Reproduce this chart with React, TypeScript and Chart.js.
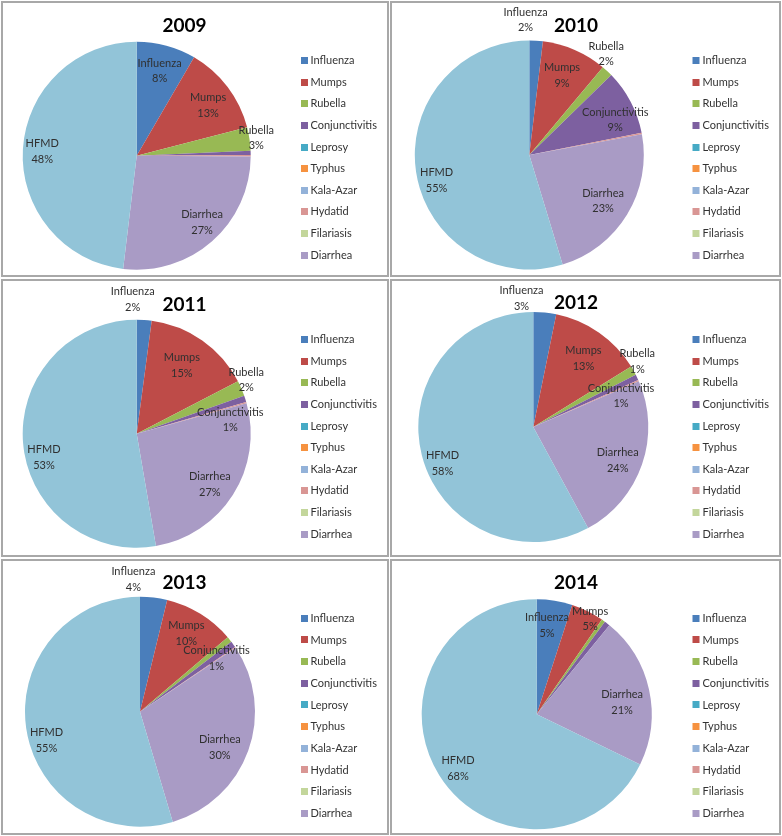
import React, { useEffect, useRef } from "react";
import { Chart, registerables } from "chart.js";

Chart.register(...registerables);

// ---------- data ----------
const categories = [
  "Influenza", "Mumps", "Rubella", "Conjunctivitis", "Leprosy", "Typhus",
  "Kala-Azar", "Hydatid", "Filariasis", "Diarrhea", "HFMD",
];
// legend lists only the first ten categories (HFMD is cut off in the original)
const legendCategories = categories.slice(0, 10);

const years = ["2009", "2010", "2011", "2012", "2013", "2014"];

const values2009 = [8.4, 12.6, 3.3, 0.6, 0, 0, 0, 0.2, 0, 26.8, 48.1];
const values2010 = [1.9, 9.2, 1.6, 9.2, 0, 0, 0, 0.2, 0, 23.2, 54.7];
const values2011 = [2.1, 15.3, 2.2, 0.9, 0, 0, 0, 0.2, 0, 26.6, 52.7];
const values2012 = [3.2, 13.0, 1.3, 0.8, 0, 0, 0, 0.2, 0, 23.6, 57.9];
const values2013 = [3.8, 10.0, 0.8, 0.9, 0, 0, 0, 0.1, 0, 29.8, 54.6];
const values2014 = [5.0, 4.6, 0.5, 0.8, 0, 0, 0, 0, 0, 21.3, 67.8];
const yearValues = [values2009, values2010, values2011, values2012, values2013, values2014];

// which slices carry a data label in each year
const labeled2009 = ["Influenza", "Mumps", "Rubella", "Diarrhea", "HFMD"];
const labeled2010 = ["Influenza", "Mumps", "Rubella", "Conjunctivitis", "Diarrhea", "HFMD"];
const labeled2011 = ["Influenza", "Mumps", "Rubella", "Conjunctivitis", "Diarrhea", "HFMD"];
const labeled2012 = ["Influenza", "Mumps", "Rubella", "Conjunctivitis", "Diarrhea", "HFMD"];
const labeled2013 = ["Influenza", "Mumps", "Conjunctivitis", "Diarrhea", "HFMD"];
const labeled2014 = ["Influenza", "Mumps", "Diarrhea", "HFMD"];
const yearLabeled = [labeled2009, labeled2010, labeled2011, labeled2012, labeled2013, labeled2014];

// ---------- styles / layout ----------
const colors = [
  "#4A7EBB", "#BE4B48", "#98B954", "#7D60A0", "#46AAC5", "#F69240",
  "#93B2D9", "#D99694", "#C3D69B", "#A99BC5", "#92C4D8",
];

// label placement: [fraction of radius, angle tweak in degrees]
const labelPlacement: Record<string, [number, number]>[] = [
  { Influenza: [0.77, 0], Mumps: [0.765, 2], Rubella: [1.06, 0], Diarrhea: [0.82, -3], HFMD: [0.83, -1] },
  { Influenza: [1.18, -5], Mumps: [0.75, -1], Rubella: [1.11, -5.6], Conjunctivitis: [0.81, 5.6], Diarrhea: [0.76, 0.7], HFMD: [0.84, -7] },
  { Influenza: [1.18, -5.5], Mumps: [0.72, -1.7], Rubella: [1.07, -2.7], Conjunctivitis: [0.83, 9.5], Diarrhea: [0.78, 2.2], HFMD: [0.84, -9.5] },
  { Influenza: [1.12, -11], Mumps: [0.74, 1.2], Rubella: [1.07, -3], Conjunctivitis: [0.81, 6], Diarrhea: [0.79, 2.6], HFMD: [0.85, -7.5] },
  { Influenza: [1.15, -9.7], Mumps: [0.79, -1], Conjunctivitis: [0.81, 1], Diarrhea: [0.76, 4.2], HFMD: [0.85, -8.7] },
  { Influenza: [0.78, -2.4], Mumps: [0.95, 3], Diarrhea: [0.75, 4.6], HFMD: [0.83, -2.4] },
];

const panels = [
  { left: 1, top: 1, w: 388, h: 276, cx: 135.7, cy: 154.7, r: 114, titleX: 183.5, titleY: 24.5, legX: 300, legTextX: 309.5, legY: 59.7, legStep: 21.6 },
  { left: 390, top: 1, w: 391, h: 276, cx: 139.3, cy: 154, r: 114.5, titleX: 186, titleY: 24.5, legX: 302.5, legTextX: 312.5, legY: 59.7, legStep: 21.6 },
  { left: 1, top: 279, w: 388, h: 278, cx: 135.7, cy: 154.7, r: 114, titleX: 183.5, titleY: 25.7, legX: 300, legTextX: 309.5, legY: 60.7, legStep: 21.6 },
  { left: 390, top: 279, w: 391, h: 278, cx: 143.3, cy: 148, r: 115, titleX: 186, titleY: 24, legX: 302.5, legTextX: 312.5, legY: 60.7, legStep: 21.6 },
  { left: 1, top: 559, w: 388, h: 276, cx: 139, cy: 152.7, r: 115, titleX: 183.5, titleY: 24.3, legX: 300, legTextX: 309.5, legY: 59.3, legStep: 21.67 },
  { left: 390, top: 559, w: 391, h: 276, cx: 146.7, cy: 155.3, r: 115, titleX: 186, titleY: 24.3, legX: 302.5, legTextX: 312.5, legY: 59.3, legStep: 21.67 },
];

const FONT = "Lato, 'Noto Sans', sans-serif";

function makePanelPlugin(idx: number) {
  const p = panels[idx];
  const place = labelPlacement[idx];
  const labeled = yearLabeled[idx];
  return {
    id: "panelDecor" + idx,
    afterDraw(chart: any) {
      const ctx: CanvasRenderingContext2D = chart.ctx;
      ctx.save();
      // frame
      ctx.strokeStyle = "#A8A8A8";
      ctx.lineWidth = 2;
      ctx.strokeRect(1, 1, chart.width - 2, chart.height - 2);

      // data labels
      const meta = chart.getDatasetMeta(0);
      const data: number[] = chart.data.datasets[0].data;
      const total = data.reduce((a, b) => a + b, 0);
      ctx.font = `11px ${FONT}`;
      ctx.fillStyle = "#303030";
      ctx.textAlign = "center";
      ctx.textBaseline = "middle";
      meta.data.forEach((arc: any, i: number) => {
        const name = categories[i];
        if (!labeled.includes(name)) return;
        const pl = place[name] || [0.8, 0];
        const { x, y, startAngle, endAngle, outerRadius } = arc.getProps(
          ["x", "y", "startAngle", "endAngle", "outerRadius"], true);
        const mid = (startAngle + endAngle) / 2 + (pl[1] * Math.PI) / 180;
        const lx = x + Math.cos(mid) * outerRadius * pl[0];
        const ly = y + Math.sin(mid) * outerRadius * pl[0];
        ctx.fillText(name, lx, ly - 7.8);
        ctx.fillText(Math.round((data[i] / total) * 100) + "%", lx, ly + 7.8);
      });

      // title
      ctx.font = `bold 19px ${FONT}`;
      ctx.fillStyle = "#000";
      ctx.fillText(years[idx], p.titleX, p.titleY);

      // legend
      ctx.font = `11px ${FONT}`;
      ctx.textAlign = "left";
      legendCategories.forEach((name, i) => {
        const cy = p.legY + i * p.legStep;
        ctx.fillStyle = colors[i];
        ctx.fillRect(p.legX, Math.round(cy - 3.5), 7, 7);
        ctx.fillStyle = "#333";
        ctx.fillText(name, p.legTextX, cy);
      });
      ctx.restore();
    },
  };
}

function Panel({ idx }: { idx: number }) {
  const ref = useRef<HTMLCanvasElement | null>(null);
  useEffect(() => {
    const p = panels[idx];
    const canvas = ref.current!;
    const padding = {
      left: Math.max(0, 2 * p.cx - p.w),
      right: Math.max(0, p.w - 2 * p.cx),
      top: Math.max(0, 2 * p.cy - p.h),
      bottom: Math.max(0, p.h - 2 * p.cy),
    };
    const chart = new Chart(canvas, {
      type: "pie",
      data: {
        labels: categories,
        datasets: [
          {
            data: yearValues[idx],
            backgroundColor: colors,
            borderWidth: 0,
            hoverOffset: 0,
          },
        ],
      },
      options: {
        animation: false,
        responsive: false,
        maintainAspectRatio: false,
        devicePixelRatio: 1,
        radius: p.r,
        layout: { padding },
        events: [],
        plugins: {
          legend: { display: false },
          title: { display: false },
          tooltip: { enabled: false },
        },
      } as any,
      plugins: [makePanelPlugin(idx)],
    });
    let alive = true;
    if ((document as any).fonts && (document as any).fonts.load) {
      Promise.all([
        (document as any).fonts.load(`11px Lato`),
        (document as any).fonts.load(`bold 19px Lato`),
      ]).then(() => {
        if (alive) chart.draw();
      }).catch(() => {});
    }
    return () => {
      alive = false;
      chart.destroy();
    };
  }, [idx]);
  const p = panels[idx];
  return (
    <canvas
      ref={ref}
      width={p.w}
      height={p.h}
      style={{ position: "absolute", left: p.left, top: p.top, width: p.w, height: p.h }}
    />
  );
}

export default function App() {
  return (
    <div
      style={{
        position: "fixed",
        left: 0,
        top: 0,
        width: 782,
        height: 836,
        background: "#fff",
        overflow: "hidden",
      }}
    >
      {years.map((y, i) => (
        <Panel key={y} idx={i} />
      ))}
    </div>
  );
}
